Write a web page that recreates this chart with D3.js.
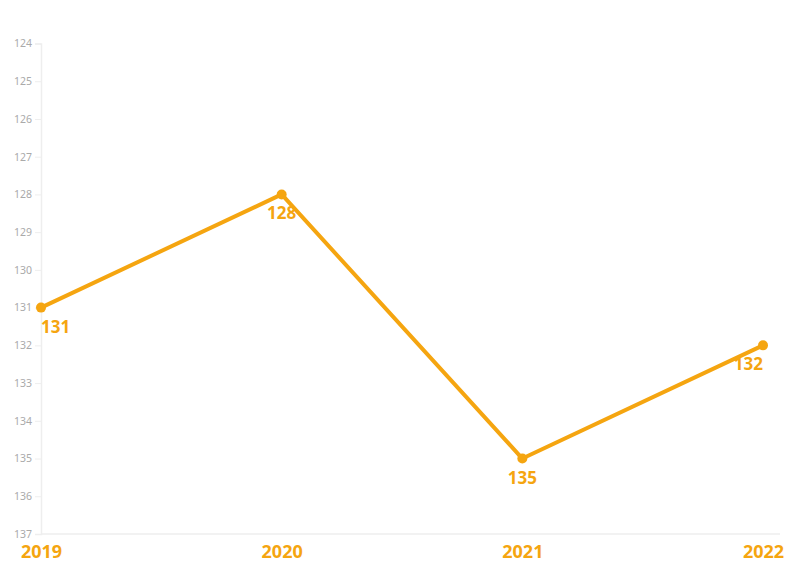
<!DOCTYPE html>
<html><head><meta charset="utf-8">
<script src="https://cdn.jsdelivr.net/npm/d3@7"></script>
<style>body{margin:0;background:#fff}svg{display:block}</style>
</head><body>
<svg id="c" width="796" height="575"></svg>
<script>
const years = ["2019", "2020", "2021", "2022"];
const values = [131, 128, 135, 132];
const yTicks = [124,125,126,127,128,129,130,131,132,133,134,135,136,137];
const color = "#F5A510";

const svg = d3.select("#c");
const x = d3.scalePoint().domain(years).range([41, 763]);
const y = d3.scaleLinear().domain([124, 137]).range([43.5, 534]);

// y axis
const ya = svg.append("g").attr("transform", "translate(41,0)")
  .call(d3.axisLeft(y).tickValues(yTicks).tickSize(6).tickPadding(3).tickFormat(d3.format("d")));
ya.select(".domain").attr("stroke", "#eee").attr("stroke-width", 1.5);
ya.selectAll(".tick line").attr("stroke", "#eee");
ya.selectAll("text").attr("fill", "#aaa").attr("font-family", "Noto Sans, sans-serif").attr("font-size", 10.5);

// x axis
const xa = svg.append("g").attr("transform", "translate(0,534)")
  .call(d3.axisBottom(x).tickSize(0).tickPadding(9));
xa.select(".domain").attr("d", "M41,0H780").attr("stroke", "#eee").attr("stroke-width", 1.5);
xa.selectAll("text").attr("fill", color).attr("font-family", "Noto Sans, sans-serif")
  .attr("font-size", 18).attr("font-weight", "bold").attr("dy", "0.85em");

const data = years.map((d, i) => ({year: d, v: values[i]}));
svg.append("path").datum(data)
  .attr("fill", "none").attr("stroke", color).attr("stroke-width", 4).attr("stroke-linejoin", "round")
  .attr("d", d3.line().x(d => x(d.year)).y(d => y(d.v)));
svg.selectAll("circle.pt").data(data).join("circle")
  .attr("cx", d => x(d.year)).attr("cy", d => y(d.v)).attr("r", 5).attr("fill", color);
svg.selectAll("text.lbl").data(data).join("text")
  .attr("x", d => x(d.year)).attr("y", d => y(d.v) + 25)
  .attr("text-anchor", (d, i) => i === 0 ? "start" : i === data.length - 1 ? "end" : "middle")
  .attr("fill", color).attr("font-family", "Noto Sans, sans-serif").attr("font-size", 17).attr("font-weight", "bold")
  .text(d => d.v);
</script>
</body></html>
